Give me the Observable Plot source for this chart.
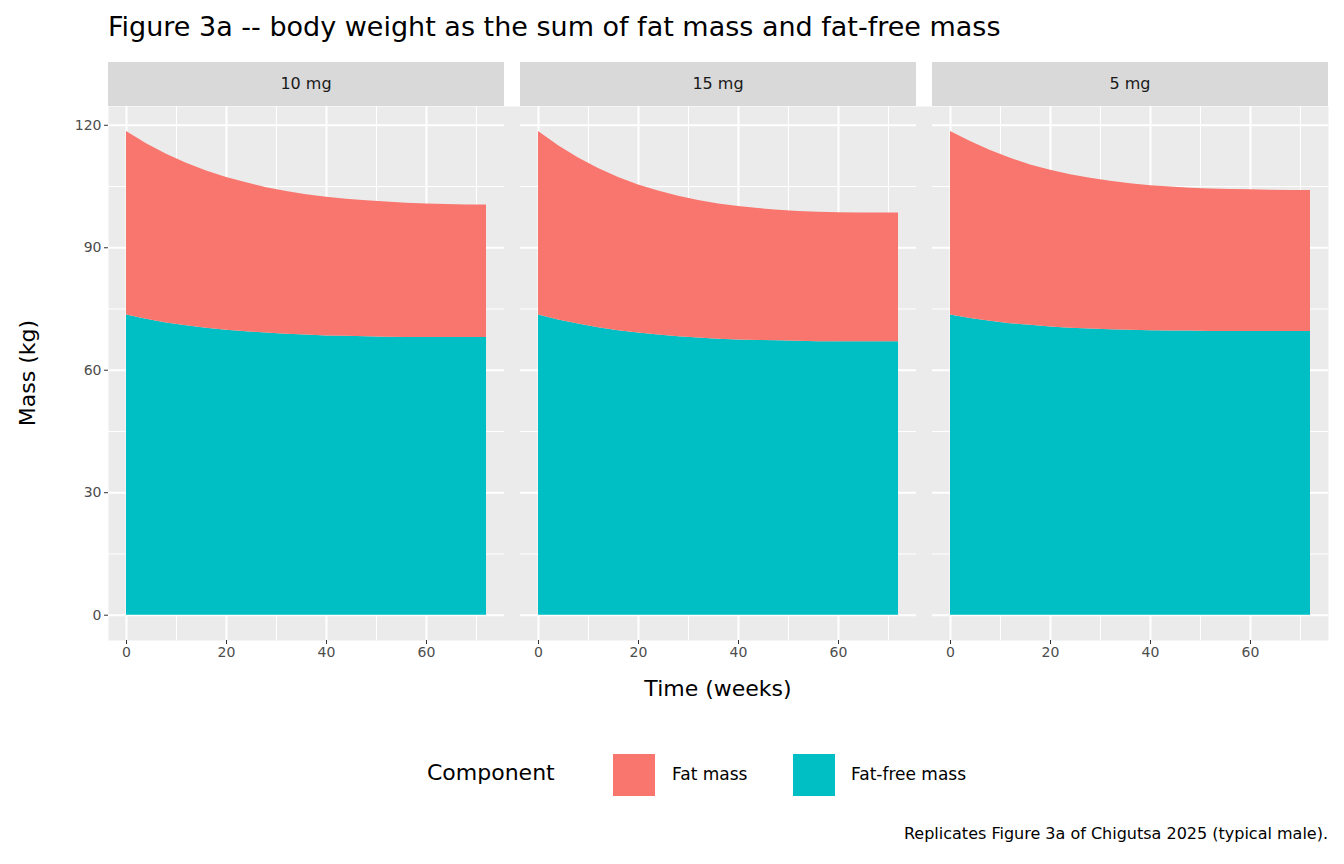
<!DOCTYPE html>
<html><head><meta charset="utf-8">
<script src="https://cdn.jsdelivr.net/npm/d3@7"></script>
<script src="https://cdn.jsdelivr.net/npm/@observablehq/plot@0.6"></script>
<style>
body{margin:0;font-family:"DejaVu Sans",sans-serif;background:#fff}
#c{position:relative;width:1344px;height:864px}
.a{position:absolute;white-space:nowrap}
.strip{position:absolute;top:62px;height:44px;width:396px;background:#d9d9d9;color:#1a1a1a;font-size:16px;line-height:44px;text-align:center}
</style></head><body><div id="c"></div>
<script>
const doses = ["10 mg","15 mg","5 mg"];
const weeks = [0,4,8,12,16,20,24,28,32,36,40,44,48,52,56,60,64,68,72];
const total10 = [118.5,115.5,112.9,110.7,108.8,107.2,105.9,104.7,103.8,103.0,102.4,101.9,101.5,101.2,100.9,100.7,100.6,100.5,100.5];
const ffm10   = [73.5,72.5,71.6,70.9,70.3,69.8,69.4,69.1,68.8,68.6,68.4,68.3,68.2,68.1,68.0,68.0,68.0,68.0,68.0];
const total15 = [118.5,115.0,112.0,109.4,107.2,105.4,103.9,102.6,101.6,100.7,100.1,99.6,99.2,98.9,98.7,98.6,98.5,98.5,98.5];
const ffm15   = [73.5,72.3,71.3,70.4,69.7,69.1,68.6,68.2,67.9,67.6,67.4,67.3,67.2,67.1,67.0,67.0,67.0,67.0,67.0];
const total5  = [118.5,116.0,113.8,111.9,110.3,109.0,107.9,107.0,106.3,105.7,105.2,104.9,104.6,104.4,104.3,104.2,104.1,104.0,104.0];
const ffm5    = [73.5,72.7,72.0,71.4,71.0,70.6,70.3,70.1,69.9,69.8,69.7,69.6,69.6,69.5,69.5,69.5,69.5,69.5,69.5];
const xMajor = [0,20,40,60], xMinor = [10,30,50,70];
const yMajor = [0,30,60,90,120], yMinor = [15,45,75,105];

const series = {"10 mg":[total10,ffm10],"15 mg":[total15,ffm15],"5 mg":[total5,ffm5]};
const data = [];
for (const d of doses) weeks.forEach((w,i)=>data.push({dose:d,week:w,total:series[d][0][i],ffm:series[d][1][i]}));
const facets = doses.map(d=>({dose:d}));

const c = document.getElementById("c");
const chart = Plot.plot({
  width:1344, height:600, marginTop:0, marginBottom:66, marginLeft:108, marginRight:16,
  style:{fontFamily:"DejaVu Sans",fontSize:"14px",color:"#4d4d4d",background:"transparent"},
  fx:{domain:doses, axis:null, paddingInner:16/412, paddingOuter:0},
  x:{domain:[-3.6,75.6], label:null},
  y:{domain:[-6.2,124.6], label:null},
  marks:[
    Plot.frame({fill:"#ebebeb", stroke:null, facet:"super"}),
    Plot.gridX(xMinor,{stroke:"#fff",strokeOpacity:1,strokeWidth:1}),
    Plot.gridY(yMinor,{stroke:"#fff",strokeOpacity:1,strokeWidth:1}),
    Plot.gridX(xMajor,{stroke:"#fff",strokeOpacity:1,strokeWidth:2}),
    Plot.gridY(yMajor,{stroke:"#fff",strokeOpacity:1,strokeWidth:2}),
    Plot.areaY(data,{fx:"dose",x:"week",y1:0,y2:"ffm",fill:"#00BFC4"}),
    Plot.areaY(data,{fx:"dose",x:"week",y1:"ffm",y2:"total",fill:"#F8766D"}),
    Plot.axisX(xMajor,{tickSize:4,stroke:"#333",fill:"#4d4d4d",fontSize:14,tickPadding:3,label:null}),
    Plot.axisY(yMajor,{tickSize:4,stroke:"#333",fill:"#4d4d4d",fontSize:14,tickPadding:3,label:null})
  ]
});
chart.style.position="absolute"; chart.style.left="0"; chart.style.top="106px";
c.appendChild(chart);

function add(html, css, cls){const d=document.createElement("div");d.className=cls||"a";d.innerHTML=html;Object.assign(d.style,css);c.appendChild(d);return d;}
add("Figure 3a -- body weight as the sum of fat mass and fat-free mass",{left:"108px",top:"11px",fontSize:"27px",color:"#000"});
doses.forEach((d,i)=>add(d,{left:(108+i*412)+"px"},"strip"));
add("Time (weeks)",{left:"718px",top:"676px",fontSize:"22px",color:"#000",transform:"translateX(-50%)"});
add("Mass (kg)",{left:"27px",top:"373px",fontSize:"22px",color:"#000",transform:"translate(-50%,-50%) rotate(-90deg)"});
add("Component",{left:"427px",top:"760px",fontSize:"22px",color:"#000"});
const leg=[["Fat mass","#F8766D",612,672],["Fat-free mass","#00BFC4",792,851]];
leg.forEach(([t,col,sx,tx])=>{
  add("",{left:sx+"px",top:"753px",width:"42px",height:"42px",background:col,border:"1px solid #fff"});
  add(t,{left:tx+"px",top:"764px",fontSize:"17px",color:"#000"});
});
add("Replicates Figure 3a of Chigutsa 2025 (typical male).",{right:"16px",top:"824px",fontSize:"16px",color:"#000"});
</script></body></html>
